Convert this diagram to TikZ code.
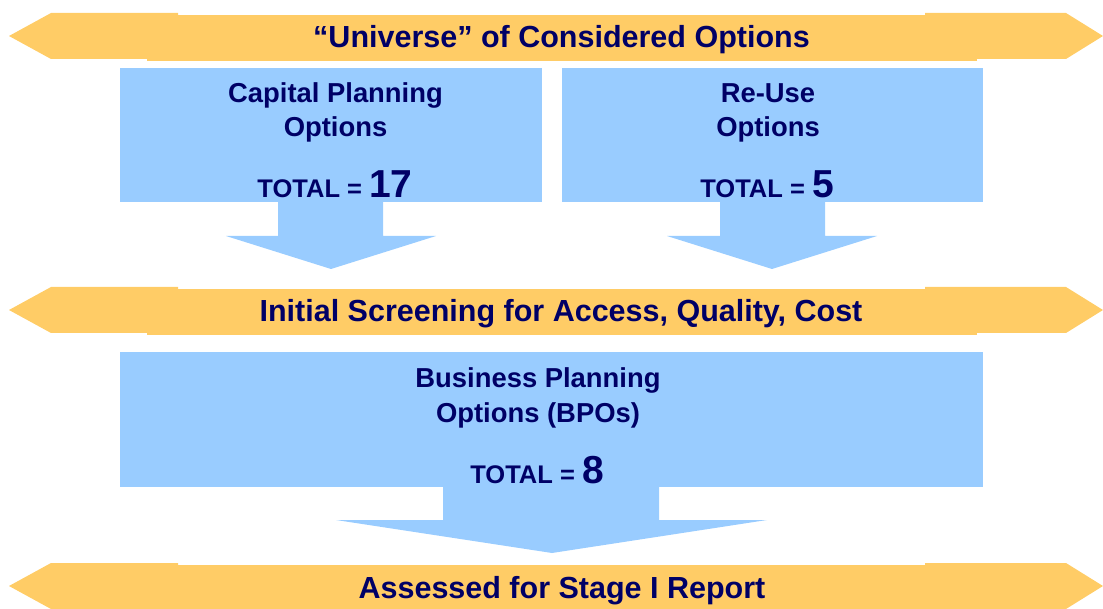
\documentclass[tikz,border=0pt]{standalone}
\usepackage{fontspec}
\setmainfont{Liberation Sans}
\definecolor{bannerfill}{HTML}{FFCC66}
\definecolor{boxfill}{HTML}{99CCFF}
\definecolor{inkblue}{HTML}{000066}
\newcommand{\bignum}[1]{{\fontsize{39}{46}\selectfont\bfseries #1}}
\begin{document}
\begin{tikzpicture}[x=1pt,y=-1pt,
  banner/.style={fill=bannerfill,draw=none},
  optbox/.style={fill=boxfill,draw=none},
  flow/.style={fill=boxfill,draw=none},
  title/.style={anchor=base,inner sep=0pt,text=inkblue,font=\fontsize{30.5}{36}\selectfont\bfseries},
  label/.style={anchor=base,inner sep=0pt,text=inkblue,font=\fontsize{27.4}{33}\selectfont\bfseries},
  total/.style={anchor=base,inner sep=0pt,text=inkblue,font=\fontsize{25.5}{30}\selectfont\bfseries}]
\useasboundingbox (0,0) rectangle (1103,609);

% horizontal double-headed banners (three overlapping pieces each)
\foreach \dy in {0,274,550}{
  \fill[banner] (9,36+\dy) -- (51,13+\dy) -- (178,13+\dy) -- (178,59+\dy) -- (51,59+\dy) -- cycle;
  \fill[banner] (147,15+\dy) rectangle (977,61+\dy);
  \fill[banner] (925,13+\dy) -- (1066,13+\dy) -- (1103,36+\dy) -- (1066,59+\dy) -- (925,59+\dy) -- cycle;
}

% option boxes
\fill[optbox] (120,68) rectangle (542,202);
\fill[optbox] (562,68) rectangle (983,202);
\fill[optbox] (120,352) rectangle (983,487);

% downward block arrows
\fill[flow] (278,202) -- (383,202) -- (383,236) -- (436,236) -- (331,269) -- (226,236) -- (278,236) -- cycle;
\fill[flow] (720,202) -- (825,202) -- (825,236) -- (877,236) -- (772,269) -- (667,236) -- (720,236) -- cycle;
\fill[flow] (443,487) -- (659,487) -- (659,520) -- (767,520) -- (552,553) -- (336,520) -- (443,520) -- cycle;

% banner captions
\node[title] (universe) at (561.5,48) {“Universe” of Considered Options};
\node[title] (screen) at (561,322) {Initial Screening for Access, Quality, Cost};
\node[title] (assess) at (562,598) {Assessed for Stage I Report};

% capital planning box
\node[label] (cap1) at (335.5,103) {Capital Planning};
\node[label] (cap2) at (335.5,137) {Options};
\node[total] (cap3) at (335,198) {TOTAL = \bignum{17}};

% re-use box
\node[label] (reu1) at (768,103) {Re-Use};
\node[label] (reu2) at (768,137) {Options};
\node[total] (reu3) at (767,198) {TOTAL = \bignum{5}};

% business planning box
\node[label] (bpo1) at (538,388) {Business Planning};
\node[label] (bpo2) at (538,422) {Options (BPOs)};
\node[total] (bpo3) at (537,483) {TOTAL = \bignum{8}};
\end{tikzpicture}
\end{document}
